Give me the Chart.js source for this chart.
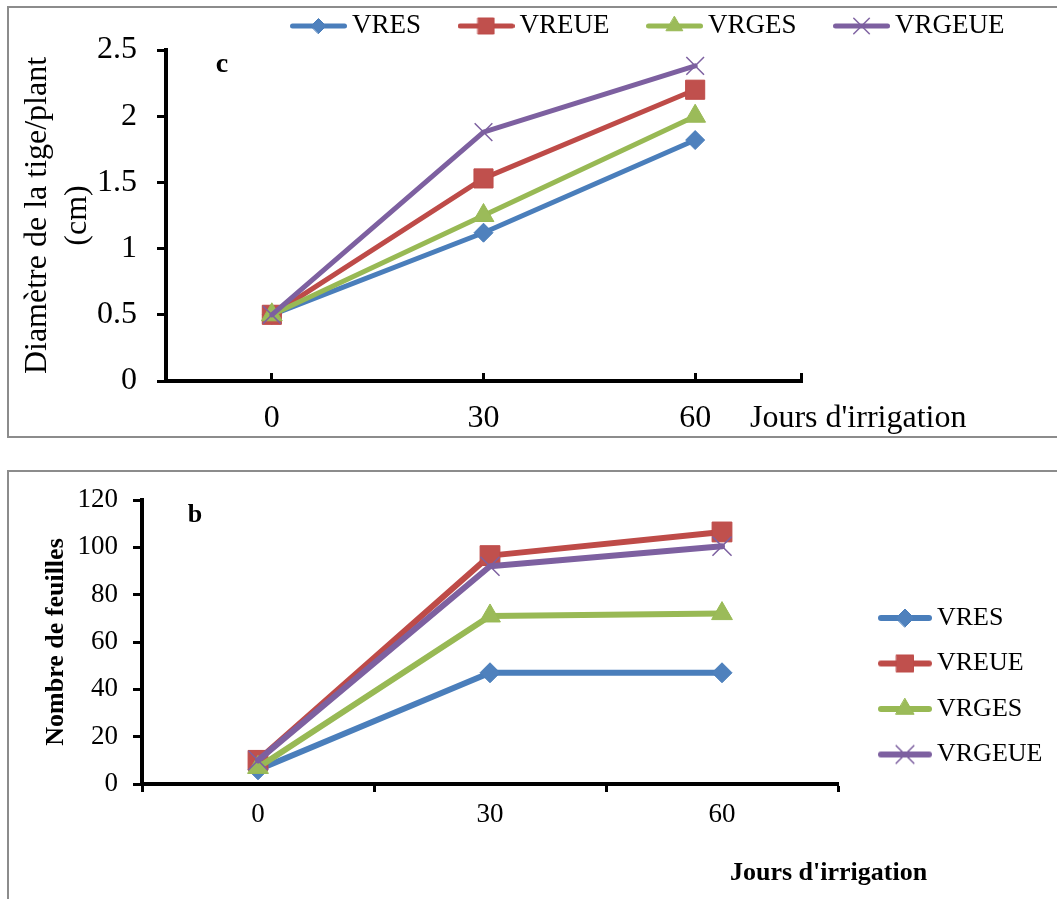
<!DOCTYPE html>
<html><head><meta charset="utf-8">
<script src="https://cdn.jsdelivr.net/npm/chart.js@4.4.0/dist/chart.umd.min.js"></script>
<style>
html,body{margin:0;padding:0;background:#fff;width:1057px;height:899px;overflow:hidden;}
body{position:relative;}
.frame{position:absolute;border:2px solid #8c8c8c;box-sizing:border-box;}
#f1{left:7px;top:6px;width:1070px;height:432px;}
#f2{left:7px;top:470px;width:1070px;height:450px;}
.wrap{position:absolute;left:0;width:1057px;}
#w1{top:0;height:445px;}
#w2{top:450px;height:449px;}
canvas{display:block;}
</style></head>
<body>
<div class="frame" id="f1"></div>
<div class="frame" id="f2"></div>
<div class="wrap" id="w1"><canvas id="c1" width="1057" height="445"></canvas></div>
<div class="wrap" id="w2"><canvas id="c2" width="1057" height="449"></canvas></div>
<script>
// ---- data ----
const seriesNames = ['VRES', 'VREUE', 'VRGES', 'VRGEUE'];
const days = [0, 30, 60];
const dayLabels = ['0', '30', '60'];
// (c) Diamètre de la tige/plant (cm)
const diamVRES   = [0.5, 1.12, 1.82];
const diamVREUE  = [0.5, 1.53, 2.2];
const diamVRGES  = [0.5, 1.25, 2.0];
const diamVRGEUE = [0.5, 1.88, 2.38];
// (b) Nombre de feuilles
const leavesVRES   = [6, 47, 47];
const leavesVREUE  = [10, 96.5, 106.5];
const leavesVRGES  = [7, 71, 72];
const leavesVRGEUE = [10, 92, 100.5];
const yTicksTop = [0, 0.5, 1, 1.5, 2, 2.5];
const yTicksBottom = [0, 20, 40, 60, 80, 100, 120];
const xTitle = "Jours d'irrigation";
const yTitleTop = ['Diamètre de la tige/plant', '(cm)'];
const yTitleBottom = 'Nombre de feuilles';

// ---- styles ----
const FONT = 'Liberation Serif';
Chart.defaults.font.family = FONT;
Chart.defaults.color = '#000';
const styles = [
  {line: '#4A7EBB', fill: '#4F81BD', shape: 'rectRot'},
  {line: '#BE4B48', fill: '#C0504D', shape: 'rect'},
  {line: '#98B954', fill: '#9BBB59', shape: 'triangle'},
  {line: '#7D60A0', fill: '#8064A2', shape: 'crossRot'}
];

function drawMarker(ctx, shape, x, y, r, fill, stroke, bw) {
  ctx.beginPath();
  if (shape === 'rectRot') {
    ctx.moveTo(x - r, y); ctx.lineTo(x, y - r); ctx.lineTo(x + r, y); ctx.lineTo(x, y + r); ctx.closePath();
  } else if (shape === 'rect') {
    const s = r * Math.SQRT1_2; ctx.rect(x - s, y - s, 2 * s, 2 * s);
  } else if (shape === 'triangle') {
    const a = 2 * Math.PI / 3;
    ctx.moveTo(x, y - r);
    ctx.lineTo(x + Math.sin(a) * r, y - Math.cos(a) * r);
    ctx.lineTo(x + Math.sin(2 * a) * r, y - Math.cos(2 * a) * r);
    ctx.closePath();
  } else if (shape === 'crossRot') {
    const o = r * Math.SQRT1_2;
    ctx.moveTo(x - o, y - o); ctx.lineTo(x + o, y + o);
    ctx.moveTo(x + o, y - o); ctx.lineTo(x - o, y + o);
    ctx.strokeStyle = stroke; ctx.lineWidth = bw; ctx.stroke();
    return;
  }
  ctx.fillStyle = fill; ctx.fill();
  ctx.strokeStyle = stroke; ctx.lineWidth = bw; ctx.stroke();
}

function legendImage(st, w, lw, r) {
  const c = document.createElement('canvas');
  c.width = w; c.height = 30;
  const ctx = c.getContext('2d');
  ctx.beginPath();
  ctx.moveTo(lw / 2, 15); ctx.lineTo(w - lw / 2, 15);
  ctx.strokeStyle = st.line; ctx.lineWidth = lw; ctx.lineCap = 'round'; ctx.stroke();
  drawMarker(ctx, st.shape, w / 2, 15, r, st.fill, st.line, st.shape === 'crossRot' ? 1.5 : 1);
  return c;
}

function legendPlacer(x, y, w, h) {
  return {
    id: 'legendPlacer',
    beforeInit(chart) {
      const lg = chart.legend; if (!lg) return;
      const orig = lg.fit;
      lg.fit = function () {
        this.maxWidth = 5000; this.maxHeight = 5000;
        orig.call(this);
        this.width = w; this.height = h;
      };
    },
    afterLayout(chart) {
      const lg = chart.legend;
      lg.left = x; lg.top = y; lg.right = x + 5000; lg.bottom = y + 5000;
      lg.width = 5000; lg.height = 5000;
    }
  };
}

function textMarks(items) {
  return {
    id: 'textMarks',
    afterDraw(chart) {
      const ctx = chart.ctx;
      items.forEach(t => {
        ctx.save();
        ctx.font = t.font; ctx.fillStyle = '#000';
        ctx.textAlign = t.align || 'left'; ctx.textBaseline = 'alphabetic';
        ctx.fillText(t.text, t.x, t.y);
        ctx.restore();
      });
    }
  };
}

function makeLabels(imgs) {
  return chart => chart.data.datasets.map((ds, i) => ({
    text: ds.label, fillStyle: ds.backgroundColor, strokeStyle: ds.borderColor,
    lineWidth: 0, hidden: false, datasetIndex: i, pointStyle: imgs[i], fontColor: '#000'
  }));
}

// ---- chart c (top) ----
const topSeries = [diamVRES, diamVREUE, diamVRGES, diamVRGEUE];
const topRadius = [9.5, 13.5, 12, 12.5];
const topLegendR = [7.5, 11.3, 9.5, 11];
const topImgs = styles.map((s, i) => legendImage(s, 57, 5, topLegendR[i]));

new Chart(document.getElementById('c1'), {
  type: 'line',
  data: {
    datasets: topSeries.map((arr, i) => ({
      label: seriesNames[i],
      data: days.map((d, j) => ({x: d, y: arr[j]})),
      borderColor: styles[i].line, backgroundColor: styles[i].fill,
      borderWidth: 5, tension: 0, borderJoinStyle: 'round', borderCapStyle: 'round',
      pointStyle: styles[i].shape, pointRadius: topRadius[i],
      pointBackgroundColor: styles[i].fill, pointBorderColor: styles[i].line,
      pointBorderWidth: styles[i].shape === 'crossRot' ? 1.5 : 1,
      order: 4 - i, clip: false
    }))
  },
  options: {
    responsive: false, animation: false, events: [],
    layout: {padding: {left: 0, right: 256, top: 0, bottom: 0}},
    plugins: {
      tooltip: {enabled: false},
      legend: {
        position: 'top', align: 'start',
        labels: {usePointStyle: true, pointStyleWidth: 40, padding: 45, color: '#000',
                 font: {family: FONT, size: 27}, generateLabels: makeLabels(topImgs)}
      }
    },
    scales: {
      x: {
        type: 'linear', min: -15, max: 75,
        afterBuildTicks: s => { s.ticks = [-15].concat(days, [75]).map(v => ({value: v})); },
        afterFit: s => { s.height = 64; },
        ticks: {autoSkip: false, maxRotation: 0, padding: 26, color: '#000',
                font: {family: FONT, size: 32},
                callback: v => { const k = days.indexOf(v); return k >= 0 ? dayLabels[k] : ''; }},
        grid: {drawOnChartArea: false, drawTicks: true, tickLength: -8, tickWidth: 3, tickColor: '#000'},
        border: {display: true, color: '#000', width: 4}
      },
      y: {
        min: 0, max: 2.5,
        afterBuildTicks: s => { s.ticks = yTicksTop.map(v => ({value: v})); },
        afterFit: s => { s.width = 166; },
        ticks: {padding: 20, color: '#000', font: {family: FONT, size: 32}, callback: v => String(v)},
        grid: {drawOnChartArea: false, drawTicks: true, tickLength: 9, tickWidth: 3, tickColor: '#000'},
        border: {display: true, color: '#000', width: 4},
        title: {display: true, text: yTitleTop, color: '#000',
                font: {family: FONT, size: 32, lineHeight: 1.25}, padding: {top: 18, bottom: 0}}
      }
    }
  },
  plugins: [legendPlacer(253.5, -32.5, 801, 50),
            textMarks([{text: 'c', x: 222, y: 72, font: 'bold 28px "Liberation Serif"', align: 'center'},
                       {text: xTitle, x: 750, y: 427, font: '32px "Liberation Serif"'}])]
});

// ---- chart b (bottom) ----
const botSeries = [leavesVRES, leavesVREUE, leavesVRGES, leavesVRGEUE];
const botRadius = [10, 14, 12, 13.5];
const botLegendR = [9, 12, 10.5, 12.5];
const botImgs = styles.map((s, i) => legendImage(s, 54, 6, botLegendR[i]));

new Chart(document.getElementById('c2'), {
  type: 'line',
  data: {
    labels: dayLabels,
    datasets: botSeries.map((arr, i) => ({
      label: seriesNames[i], data: arr,
      borderColor: styles[i].line, backgroundColor: styles[i].fill,
      borderWidth: 6, tension: 0, borderJoinStyle: 'round', borderCapStyle: 'round',
      pointStyle: styles[i].shape, pointRadius: botRadius[i],
      pointBackgroundColor: styles[i].fill, pointBorderColor: styles[i].line,
      pointBorderWidth: styles[i].shape === 'crossRot' ? 1.5 : 1,
      order: 4 - i, clip: false
    }))
  },
  options: {
    responsive: false, animation: false, events: [],
    layout: {padding: {left: 0, right: 0, top: 50, bottom: 0}},
    plugins: {
      tooltip: {enabled: false},
      legend: {
        position: 'right', align: 'start',
        labels: {usePointStyle: true, pointStyleWidth: 38, padding: 19.5, color: '#000',
                 font: {family: FONT, size: 26}, generateLabels: makeLabels(botImgs)}
      }
    },
    scales: {
      x: {
        type: 'category', offset: true,
        afterFit: s => { s.height = 115; },
        ticks: {autoSkip: false, maxRotation: 0, padding: 7, color: '#000', font: {family: FONT, size: 27}},
        grid: {offset: true, drawOnChartArea: false, drawTicks: true, tickLength: 8, tickWidth: 3, tickColor: '#000'},
        border: {display: true, color: '#000', width: 4}
      },
      y: {
        min: 0, max: 120,
        afterBuildTicks: s => { s.ticks = yTicksBottom.map(v => ({value: v})); },
        afterFit: s => { s.width = 142; },
        ticks: {padding: 15, color: '#000', font: {family: FONT, size: 27}, callback: v => String(v)},
        grid: {drawOnChartArea: false, drawTicks: true, tickLength: 9, tickWidth: 3, tickColor: '#000'},
        border: {display: true, color: '#000', width: 4},
        title: {display: true, text: yTitleBottom, color: '#000',
                font: {family: FONT, size: 26, weight: 'bold', lineHeight: 1.2}, padding: {top: 41, bottom: 0}}
      }
    }
  },
  plugins: [legendPlacer(866.5, 135.5, 219, 0),
            textMarks([{text: 'b', x: 195, y: 72, font: 'bold 26px "Liberation Serif"', align: 'center'},
                       {text: xTitle, x: 730, y: 430, font: 'bold 26px "Liberation Serif"'}])]
});
</script>
</body></html>
